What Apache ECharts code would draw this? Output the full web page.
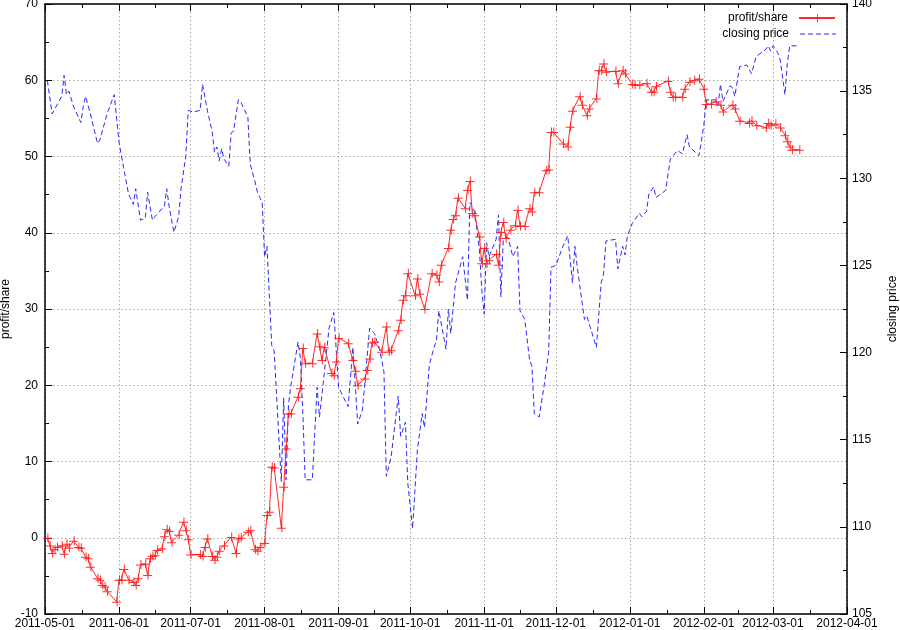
<!DOCTYPE html>
<html>
<head>
<meta charset="utf-8">
<script src="https://cdn.jsdelivr.net/npm/echarts@6/dist/echarts.min.js"></script>
<style>
  html, body { margin: 0; padding: 0; background: #fff; }
  #chart { width: 900px; height: 630px; }
</style>
</head>
<body>
<div id="chart"></div>
<script>
// profit/share, left axis
const profitDates = [
  '2011-05-02','2011-05-03','2011-05-04','2011-05-05','2011-05-06','2011-05-08','2011-05-09','2011-05-10','2011-05-11','2011-05-13',
  '2011-05-15','2011-05-16','2011-05-18','2011-05-19','2011-05-20','2011-05-23','2011-05-24','2011-05-25','2011-05-26','2011-05-27',
  '2011-05-31','2011-06-01','2011-06-02','2011-06-03','2011-06-05','2011-06-07','2011-06-08','2011-06-09','2011-06-10','2011-06-12',
  '2011-06-13','2011-06-14','2011-06-15','2011-06-16','2011-06-17','2011-06-19','2011-06-20','2011-06-21','2011-06-22','2011-06-23',
  '2011-06-26','2011-06-28','2011-06-29','2011-06-30','2011-07-01','2011-07-05','2011-07-06','2011-07-07','2011-07-08','2011-07-10',
  '2011-07-11','2011-07-12','2011-07-13','2011-07-15','2011-07-18','2011-07-20','2011-07-21','2011-07-22','2011-07-25','2011-07-26',
  '2011-07-28','2011-07-29','2011-07-30','2011-08-01','2011-08-02','2011-08-03','2011-08-04','2011-08-05','2011-08-08','2011-08-09',
  '2011-08-10','2011-08-11','2011-08-12','2011-08-15','2011-08-16','2011-08-17','2011-08-18','2011-08-21','2011-08-23','2011-08-24',
  '2011-08-25','2011-08-26','2011-08-29','2011-08-30','2011-08-31','2011-09-01','2011-09-05','2011-09-07','2011-09-08','2011-09-09',
  '2011-09-12','2011-09-13','2011-09-14','2011-09-15','2011-09-16','2011-09-19','2011-09-21','2011-09-22','2011-09-23','2011-09-26',
  '2011-09-27','2011-09-28','2011-09-29','2011-09-30','2011-10-03','2011-10-04','2011-10-05','2011-10-07','2011-10-10','2011-10-12',
  '2011-10-13','2011-10-14','2011-10-17','2011-10-18','2011-10-19','2011-10-20','2011-10-21','2011-10-24','2011-10-25','2011-10-26',
  '2011-10-27','2011-10-28','2011-10-30','2011-10-31','2011-11-01','2011-11-02','2011-11-03','2011-11-06','2011-11-07','2011-11-08',
  '2011-11-09','2011-11-10','2011-11-12','2011-11-14','2011-11-15','2011-11-16','2011-11-18','2011-11-20','2011-11-21','2011-11-22',
  '2011-11-24','2011-11-27','2011-11-28','2011-11-29','2011-11-30','2011-12-04','2011-12-06','2011-12-07','2011-12-08','2011-12-11',
  '2011-12-12','2011-12-14','2011-12-15','2011-12-18','2011-12-19','2011-12-20','2011-12-21','2011-12-22','2011-12-26','2011-12-27',
  '2011-12-29','2011-12-30','2012-01-02','2012-01-03','2012-01-05','2012-01-08','2012-01-10','2012-01-11','2012-01-12','2012-01-17',
  '2012-01-18','2012-01-19','2012-01-20','2012-01-23','2012-01-24','2012-01-26','2012-01-28','2012-01-30','2012-02-01','2012-02-02',
  '2012-02-04','2012-02-06','2012-02-08','2012-02-09','2012-02-13','2012-02-14','2012-02-16','2012-02-20','2012-02-21','2012-02-23',
  '2012-02-27','2012-02-28','2012-02-29','2012-03-02','2012-03-04','2012-03-06','2012-03-07','2012-03-08','2012-03-09','2012-03-12'
];
const profitValues = [
  0.0, -1.0, -2.0, -1.5, -1.2, -1.0, -2.1, -0.8, -1.3, -0.4,
  -1.2, -1.3, -2.5, -2.7, -3.8, -5.3, -5.5, -6.2, -6.4, -7.0,
  -8.4, -5.5, -5.5, -4.1, -5.5, -5.8, -6.2, -5.3, -3.5, -3.4,
  -4.9, -2.7, -2.4, -2.3, -1.6, -1.4, 0.2, 1.1, 0.9, -0.6,
  0.4, 2.1, 1.0, -0.2, -2.2, -2.2, -2.4, -1.2, -0.1, -2.4,
  -2.9, -2.5, -1.7, -1.0, 0.1, -2.0, -0.1, 0.0, 0.8, 1.0,
  -1.5, -1.7, -1.2, -0.7, 3.0, 3.4, 9.3, 9.2, 1.3, 6.7,
  11.7, 16.3, 16.3, 18.5, 19.6, 24.9, 22.9, 22.9, 26.8, 25.1,
  23.3, 25.0, 21.6, 21.3, 23.1, 26.2, 25.5, 23.3, 21.9, 20.0,
  20.9, 22.0, 23.5, 25.6, 25.7, 24.4, 27.7, 24.4, 24.6, 27.2,
  28.6, 31.2, 31.8, 34.7, 31.8, 34.0, 32.0, 30.0, 34.7, 34.5,
  33.6, 35.8, 38.0, 40.4, 41.8, 42.3, 44.6, 43.2, 45.6, 46.8,
  42.6, 42.3, 39.5, 36.0, 38.0, 36.0, 36.4, 37.2, 35.8, 40.1,
  41.4, 39.3, 40.4, 41.0, 43.0, 40.9, 40.9, 43.2, 42.8, 45.3,
  45.3, 48.2, 48.3, 53.2, 53.2, 51.7, 51.3, 53.9, 56.0, 57.9,
  56.8, 55.4, 56.3, 57.6, 61.3, 61.3, 62.2, 61.1, 61.2, 59.6,
  61.3, 60.9, 59.5, 59.4, 59.4, 59.6, 58.5, 58.5, 59.2, 59.9,
  58.5, 57.8, 57.8, 57.8, 58.9, 59.8, 60.0, 60.2, 58.9, 56.9,
  56.9, 57.2, 56.8, 55.9, 56.8, 56.3, 54.7, 54.4, 54.7, 54.1,
  53.8, 54.4, 54.1, 54.3, 53.8, 52.8, 52.0, 51.3, 50.9, 50.9
];

// closing price, right axis
const priceDates = [
  '2011-05-02','2011-05-04','2011-05-06','2011-05-08','2011-05-09','2011-05-10','2011-05-11','2011-05-13','2011-05-16','2011-05-17',
  '2011-05-18','2011-05-20','2011-05-23','2011-05-24','2011-05-27','2011-05-30','2011-06-01','2011-06-02','2011-06-05','2011-06-07',
  '2011-06-08','2011-06-10','2011-06-12','2011-06-13','2011-06-15','2011-06-16','2011-06-20','2011-06-21','2011-06-22','2011-06-24',
  '2011-06-26','2011-06-27','2011-06-29','2011-06-30','2011-07-02','2011-07-05','2011-07-06','2011-07-08','2011-07-10','2011-07-11',
  '2011-07-12','2011-07-13','2011-07-14','2011-07-15','2011-07-17','2011-07-18','2011-07-19','2011-07-21','2011-07-22','2011-07-25',
  '2011-07-26','2011-07-28','2011-07-29','2011-07-30','2011-07-31','2011-08-01','2011-08-02','2011-08-04','2011-08-05','2011-08-08',
  '2011-08-09','2011-08-10','2011-08-11','2011-08-12','2011-08-15','2011-08-16','2011-08-17','2011-08-18','2011-08-21','2011-08-23',
  '2011-08-24','2011-08-26','2011-08-28','2011-08-30','2011-09-01','2011-09-05','2011-09-07','2011-09-09','2011-09-11','2011-09-14',
  '2011-09-16','2011-09-18','2011-09-20','2011-09-21','2011-09-23','2011-09-26','2011-09-27','2011-09-29','2011-09-30','2011-10-02',
  '2011-10-04','2011-10-06','2011-10-07','2011-10-09','2011-10-11','2011-10-12','2011-10-13','2011-10-16','2011-10-17','2011-10-18',
  '2011-10-20','2011-10-23','2011-10-25','2011-10-26','2011-10-28','2011-10-30','2011-10-31','2011-11-01','2011-11-02','2011-11-03',
  '2011-11-06','2011-11-07','2011-11-08','2011-11-09','2011-11-11','2011-11-13','2011-11-15','2011-11-16','2011-11-18','2011-11-20',
  '2011-11-21','2011-11-22','2011-11-24','2011-11-26','2011-11-28','2011-11-29','2011-12-01','2011-12-04','2011-12-06','2011-12-08',
  '2011-12-09','2011-12-10','2011-12-13','2011-12-14','2011-12-18','2011-12-20','2011-12-21','2011-12-22','2011-12-26','2011-12-27',
  '2011-12-29','2011-12-30','2011-12-31','2012-01-02','2012-01-05','2012-01-06','2012-01-08','2012-01-09','2012-01-11','2012-01-12',
  '2012-01-16','2012-01-18','2012-01-21','2012-01-23','2012-01-25','2012-01-26','2012-01-30','2012-02-01','2012-02-02','2012-02-06',
  '2012-02-07','2012-02-08','2012-02-09','2012-02-12','2012-02-13','2012-02-14','2012-02-16','2012-02-19','2012-02-21','2012-02-23',
  '2012-02-25','2012-02-27','2012-02-28','2012-02-29','2012-03-01','2012-03-03','2012-03-04','2012-03-06','2012-03-07','2012-03-08',
  '2012-03-11'
];
const priceValues = [
  135.6, 133.7, 134.2, 134.7, 135.9, 134.8, 135.0, 134.1, 133.2, 134.1,
  134.7, 133.7, 132.0, 132.2, 133.7, 134.8, 132.1, 131.3, 129.1, 128.5,
  129.4, 127.6, 127.7, 129.2, 127.6, 127.8, 128.4, 129.4, 128.4, 126.9,
  127.8, 129.4, 131.3, 133.9, 133.8, 133.9, 135.4, 133.9, 132.7, 131.5,
  131.8, 131.0, 131.7, 131.1, 130.7, 132.6, 132.7, 134.5, 134.4, 133.5,
  130.8, 129.8, 129.2, 128.9, 128.6, 125.5, 126.1, 120.4, 120.1, 112.6,
  117.4, 112.7, 117.0, 118.1, 120.6, 119.7, 116.6, 112.7, 112.7, 118.0,
  116.3, 118.8, 121.4, 122.3, 118.0, 116.9, 120.3, 115.9, 116.7, 121.4,
  121.1, 120.3, 118.9, 112.9, 114.0, 117.5, 115.2, 116.0, 112.5, 109.9,
  114.4, 116.5, 115.7, 119.3, 120.3, 120.7, 122.4, 120.2, 122.5, 121.1,
  124.0, 125.5, 123.0, 128.6, 128.1, 125.9, 123.6, 122.2, 126.3, 125.5,
  126.5, 127.9, 123.2, 126.5, 126.6, 125.5, 126.1, 122.4, 121.9, 119.6,
  119.2, 116.5, 116.3, 118.0, 120.0, 124.9, 125.0, 126.1, 126.7, 124.0,
  126.1, 124.9, 121.9, 122.1, 120.3, 124.0, 124.5, 126.4, 126.5, 124.8,
  126.1, 125.6, 126.7, 127.4, 128.0, 127.8, 128.1, 129.1, 129.5, 128.9,
  129.3, 131.1, 131.6, 131.4, 132.5, 131.8, 131.3, 133.0, 134.5, 134.5,
  134.2, 135.4, 134.4, 135.3, 135.2, 134.7, 136.4, 136.5, 136.0, 137.0,
  137.2, 137.4, 137.6, 137.3, 137.6, 137.2, 136.8, 134.8, 136.6, 137.6,
  137.6
];

const xStart = '2011-05-01';
const xEnd = '2012-04-01';

const DAY = 24 * 3600 * 1000;
const font = 'Liberation Sans';
const plusPath = 'path://M0,4.5L9,4.5L9,5.5L0,5.5Z M4.5,0L5.5,0L5.5,9L4.5,9Z';
// dashed legend sample for the price line
const dashPath = 'path://M0,0H5V1H0Z M8,0H13V1H8Z M16,0H21V1H16Z M24,0H29V1H24Z M32,0H36V1H32Z';

const chart = echarts.init(document.getElementById('chart'));

const dotted = { color: '#a8a8a8', width: 1, type: [1.5, 2.5] };
const axisLine = { show: true, onZero: false, lineStyle: { color: '#000', width: 1.5 } };
const tick = { show: true, inside: true, length: 7, lineStyle: { color: '#000' } };
const minor = { show: true, splitNumber: 2, length: 4, lineStyle: { color: '#000' } };

chart.setOption({
  animation: false,
  backgroundColor: '#fff',
  textStyle: { fontFamily: font },
  grid: { left: 45, right: 53, top: 4, bottom: 16, containLabel: false, outerBoundsMode: 'none' },
  legend: [
    {
      data: ['profit/share'], right: 64, top: 12, align: 'right',
      itemWidth: 36, itemHeight: 10, itemGap: 0, padding: 0,
      textStyle: { fontSize: 12, color: '#000', fontFamily: font, padding: [0, 6, 0, 0] }
    },
    {
      data: [{ name: 'closing price', icon: dashPath }], right: 64, top: 28, align: 'right',
      itemWidth: 36, itemHeight: 1.2, itemGap: 0, padding: 0,
      textStyle: { fontSize: 12, color: '#000', fontFamily: font, padding: [0, 6, 0, 0] }
    }
  ],
  xAxis: [
    {
      type: 'time', position: 'bottom',
      min: xStart, max: xEnd,
      minInterval: 28 * DAY, maxInterval: 31 * DAY,
      axisLine: axisLine, axisTick: tick, minorTick: minor,
      axisLabel: {
        color: '#000', fontSize: 12, margin: 4, fontFamily: font,
        formatter: '{yyyy}-{MM}-{dd}', showMinLabel: true, showMaxLabel: true
      },
      splitLine: { show: true, lineStyle: dotted }
    },
    {
      type: 'time', position: 'top',
      min: xStart, max: xEnd,
      minInterval: 28 * DAY, maxInterval: 31 * DAY,
      axisLine: axisLine, axisTick: tick, minorTick: minor,
      axisLabel: { show: false },
      splitLine: { show: false }
    }
  ],
  yAxis: [
    {
      type: 'value', position: 'left',
      min: -10, max: 70, interval: 10,
      name: 'profit/share', nameLocation: 'middle', nameRotate: 90, nameGap: 33,
      nameMoveOverlap: false,
      nameTextStyle: { color: '#000', fontSize: 12, fontFamily: font },
      axisLine: axisLine, axisTick: tick, minorTick: minor,
      axisLabel: { color: '#000', fontSize: 12, margin: 7, fontFamily: font },
      splitLine: { show: true, lineStyle: dotted }
    },
    {
      type: 'value', position: 'right',
      min: 105, max: 140, interval: 5,
      name: 'closing price', nameLocation: 'middle', nameRotate: 90, nameGap: 40,
      nameMoveOverlap: false,
      nameTextStyle: { color: '#000', fontSize: 12, fontFamily: font },
      axisLine: axisLine, axisTick: tick, minorTick: minor,
      axisLabel: { color: '#000', fontSize: 12, margin: 5, fontFamily: font },
      splitLine: { show: false }
    }
  ],
  series: [
    {
      name: 'profit/share', type: 'line', xAxisIndex: 0, yAxisIndex: 0,
      data: profitDates.map((d, i) => [d, profitValues[i]]),
      symbol: plusPath, symbolSize: 9, showSymbol: true, showAllSymbol: true,
      itemStyle: { color: '#ff1a1a', opacity: 0.9 },
      lineStyle: { color: '#ff2a2a', width: 1 },
      z: 3
    },
    {
      name: 'closing price', type: 'line', xAxisIndex: 0, yAxisIndex: 1,
      data: priceDates.map((d, i) => [d, priceValues[i]]),
      showSymbol: false, symbol: 'none',
      itemStyle: { color: '#2a2aff' },
      lineStyle: { color: '#2a2aff', width: 1, type: [5, 3] },
      z: 2
    }
  ]
});
</script>
</body>
</html>
